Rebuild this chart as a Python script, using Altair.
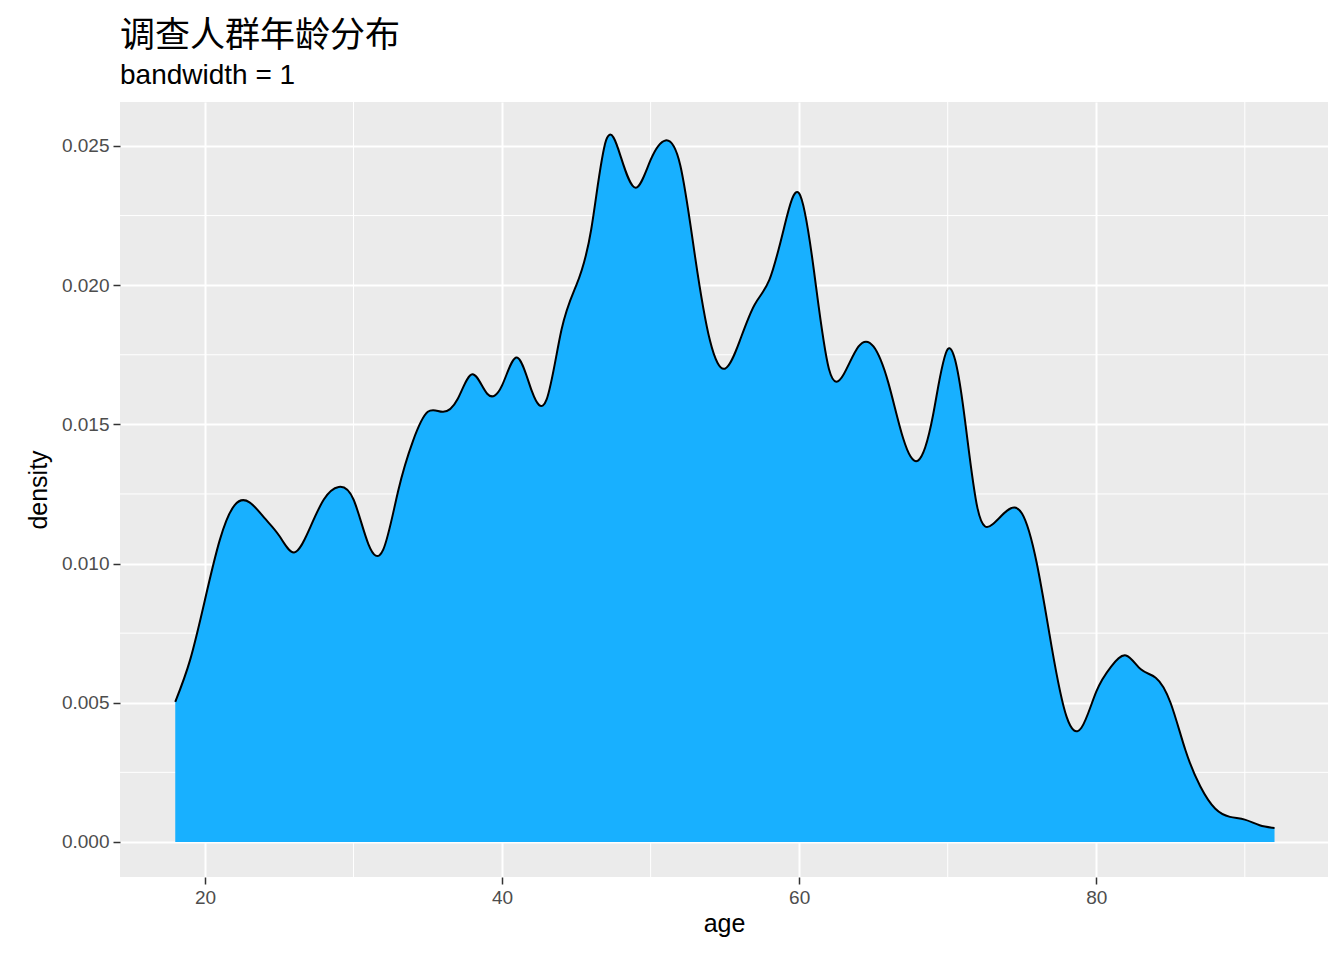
import pandas as pd
import altair as alt

ages = list(range(18, 93))
density = [
    0.00503, 0.00654, 0.0087, 0.01085, 0.0121, 0.0122, 0.01164, 0.0110, 0.0104, 0.0112,
    0.0123, 0.01275, 0.0123, 0.0107, 0.0105, 0.0126, 0.0144, 0.01545, 0.01545, 0.0159,
    0.0168, 0.0161, 0.0164, 0.0174, 0.0162, 0.0159, 0.0184, 0.0200, 0.0220, 0.0252,
    0.0246, 0.0235, 0.0245, 0.0252, 0.0243, 0.0210, 0.0180, 0.0170, 0.0180, 0.0193,
    0.0202, 0.0221, 0.0233, 0.0205, 0.0170, 0.0168, 0.0178, 0.0178, 0.0165, 0.0145,
    0.0137, 0.0153, 0.0177, 0.0158, 0.0120, 0.0114, 0.0119, 0.0118, 0.0100, 0.0070,
    0.0045, 0.0041, 0.0054, 0.0063, 0.0067, 0.0062, 0.0059, 0.0050, 0.0033, 0.0020,
    0.0012, 0.0009, 0.0008, 0.0006, 0.0005,
]
x_major = [20, 40, 60, 80]
x_minor = [30, 50, 70, 90]
y_major = [0.0, 0.005, 0.01, 0.015, 0.02, 0.025]
y_minor = [0.0025, 0.0075, 0.0125, 0.0175, 0.0225]

df = pd.DataFrame({"age": ages, "density": density, "base": 0.0})

xs = alt.Scale(domain=[14.28, 95.6], nice=False, zero=False)
ys = alt.Scale(domain=[-0.00126, 0.02658], nice=False, zero=False)
x_axis = alt.Axis(values=x_major, title="age")
y_axis = alt.Axis(values=y_major, format=".3f", title="density")

area = alt.Chart(df).mark_area(
    color="#18B0FF", opacity=1, interpolate="natural",
    line={"color": "black", "strokeWidth": 2}
).encode(
    x=alt.X("age:Q", scale=xs, axis=x_axis),
    y=alt.Y("density:Q", scale=ys, axis=y_axis),
    y2="base:Q",
)

minor_x = alt.Chart(pd.DataFrame({"age": x_minor})).mark_rule(color="white", strokeWidth=1).encode(
    x=alt.X("age:Q", scale=xs, axis=x_axis)
)
minor_y = alt.Chart(pd.DataFrame({"density": y_minor})).mark_rule(color="white", strokeWidth=1).encode(
    y=alt.Y("density:Q", scale=ys, axis=y_axis)
)

chart = alt.layer(minor_x, minor_y, area).properties(
    width=1208, height=775,
    autosize=alt.AutoSizeParams(type="none"),
    padding={"left": 112, "top": 94, "right": 8, "bottom": 75},
    title=alt.TitleParams(
        "调查人群年龄分布", subtitle="bandwidth = 1", anchor="start", frame="group",
        font="Liberation Sans, Noto Sans CJK SC", fontSize=35, fontWeight="normal", color="black",
        subtitleFont="Liberation Sans", subtitleFontSize=28, subtitleColor="black",
        offset=12, subtitlePadding=8,
    ),
).configure_view(fill="#EBEBEB", stroke=None).configure_axis(
    grid=True, gridColor="white", gridWidth=2, domain=False,
    tickColor="#333333", tickSize=7, tickWidth=1.5,
    labelFont="Liberation Sans", labelFontSize=19, labelColor="#4D4D4D", labelPadding=4,
    titleFont="Liberation Sans", titleFontSize=25, titleFontWeight="normal", titleColor="black",
).configure_axisY(titlePadding=10)

chart.save("out.html", embed_options={"renderer": "svg", "actions": False})
